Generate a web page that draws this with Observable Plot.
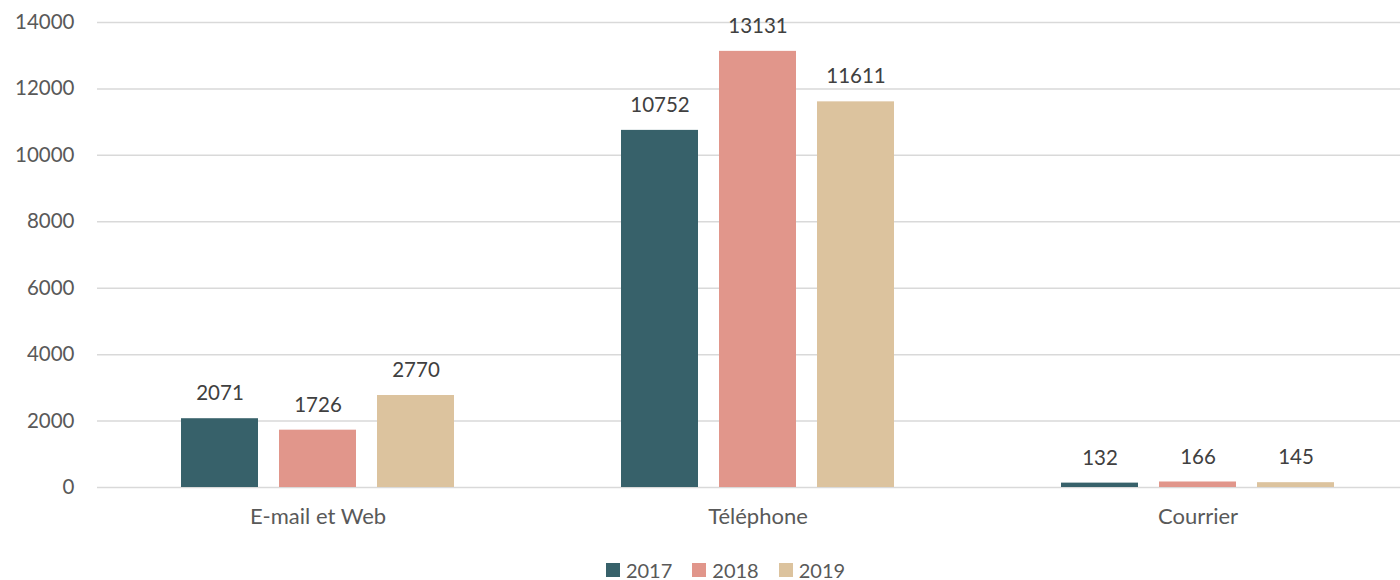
<!DOCTYPE html>
<html>
<head>
<meta charset="utf-8">
<script src="https://cdn.jsdelivr.net/npm/d3@7"></script>
<script src="https://cdn.jsdelivr.net/npm/@observablehq/plot@0.6"></script>
<style>
  html, body { margin: 0; padding: 0; background: #fff; overflow: hidden; }
  #chart { width: 1400px; font-family: Lato, "Open Sans", sans-serif; }
  #layers { position: relative; width: 1400px; height: 545px; }
  #layers svg { position: absolute; left: 0; top: 0; }
  .legend { display: flex; justify-content: center; align-items: center; gap: 20px; margin-top: 14px; padding-left: 51px; font-size: 20px; line-height: 22px; color: #595959; }
  .legend .item { display: flex; align-items: center; gap: 6px; }
  .legend .sw { width: 14px; height: 14px; display: inline-block; }
</style>
</head>
<body>
<div id="chart"><div id="layers"></div></div>
<script>
const categories = ["E-mail et Web", "Téléphone", "Courrier"];
const years = ["2017", "2018", "2019"];
const values2017 = [2071, 10752, 132];
const values2018 = [1726, 13131, 166];
const values2019 = [2770, 11611, 145];
const colors = ["#37616A", "#E1968B", "#DCC39E"];
const yTicks = [0, 2000, 4000, 6000, 8000, 10000, 12000, 14000];

const series = [values2017, values2018, values2019];
const data = [];
categories.forEach((c, i) => {
  years.forEach((y, j) => data.push({category: c, year: y, value: series[j][i]}));
});

const common = {
  width: 1400,
  height: 545,
  marginLeft: 97,
  marginRight: -18,
  marginTop: 22,
  marginBottom: 58,
  y: {domain: [0, 14000]}
};
const font = {fontFamily: "Lato, 'Open Sans', sans-serif", fontSize: "20px", color: "#595959"};

const back = Plot.plot({
  ...common,
  style: {...font, background: "#fff"},
  marks: [
    Plot.ruleY(yTicks, {y: d => d, stroke: "#D9D9D9", strokeWidth: 1.5}),
    Plot.axisY({ticks: yTicks, tickSize: 0, tickPadding: 23, label: null, tickFormat: d => String(d), fill: "#595959", fontSize: 20.5})
  ]
});

const front = Plot.plot({
  ...common,
  style: {...font, background: "transparent"},
  fx: {domain: categories, paddingInner: 0.38, paddingOuter: 0.19},
  x: {domain: years, paddingInner: 0.2143, paddingOuter: 0},
  color: {domain: years, range: colors},
  marks: [
    Plot.barY(data, {fx: "category", x: "year", y: "value", fill: "year"}),
    Plot.text(data, {fx: "category", x: "year", y: "value", text: d => String(d.value), dy: -25, fill: "#404040", fontSize: 20.5, lineAnchor: "middle"}),
    Plot.axisY({ticks: [], label: null}),
    Plot.axisX({ticks: [], label: null}),
    Plot.axisFx({anchor: "bottom", tickSize: 0, tickPadding: 21, label: null, fill: "#595959", fontSize: 22})
  ]
});
const layers = document.getElementById("layers");
layers.appendChild(back);
layers.appendChild(front);

const legend = document.createElement("div");
legend.className = "legend";
years.forEach((y, i) => {
  const item = document.createElement("span");
  item.className = "item";
  const sw = document.createElement("span");
  sw.className = "sw";
  sw.style.background = colors[i];
  const t = document.createElement("span");
  t.textContent = y;
  item.appendChild(sw);
  item.appendChild(t);
  legend.appendChild(item);
});
document.getElementById("chart").appendChild(legend);
</script>
</body>
</html>
